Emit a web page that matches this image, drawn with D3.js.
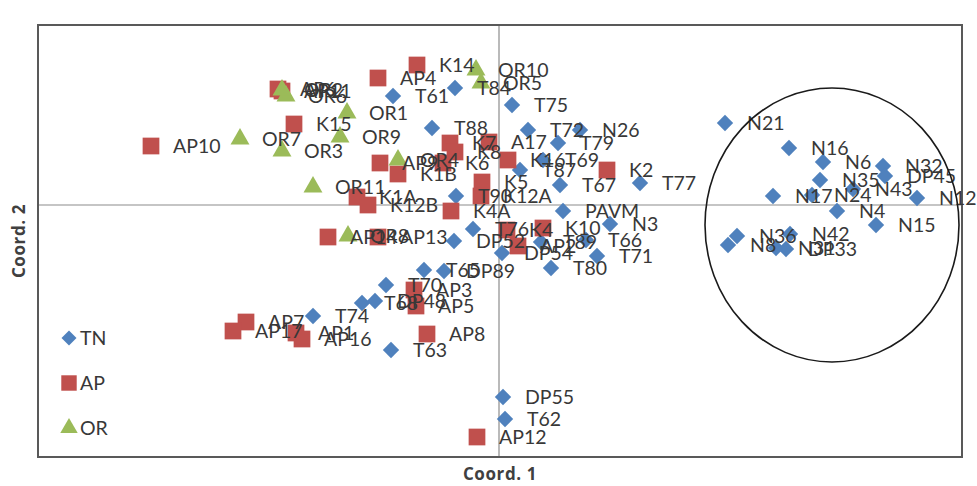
<!DOCTYPE html>
<html>
<head>
<meta charset="utf-8">
<script src="https://cdn.jsdelivr.net/npm/d3@7"></script>
<style>
  body { margin: 0; background: #fff; }
  svg { display: block; }
  .lbl { font-family: Lato, "Open Sans", sans-serif; font-size: 19.5px; fill: #383838; }
  .title { font-family: "Open Sans", sans-serif; font-size: 17px; font-weight: bold; fill: #404040; letter-spacing: 0.6px; }
</style>
</head>
<body>
<svg width="977" height="486"></svg>
<script>
// TN series
var tnLabels = ["T61","T84","T75","T88","T72","N26","T79","T69","T87","T67","T77","T90","PAVM","N3","T76","DP52","T89","T66","DP54","T71","T80","T65","DP89","T70","T68","DP48","T74","T63","DP55","T62",
                "N21","N16","N6","N32","DP45","N35","N17","N24","N43","N12","N4","N15","N8","N36","N42","N31","DP33"];
var tnX = [-0.106,-0.044,0.013,-0.067,0.029,0.081,0.059,0.044,0.021,0.061,0.141,-0.043,0.064,0.111,-0.026,-0.045,0.042,0.087,0.003,0.098,0.052,-0.075,-0.055,-0.113,-0.137,-0.124,-0.186,-0.108,0.004,0.006,
           0.226,0.290,0.324,0.384,0.386,0.321,0.274,0.313,0.354,0.418,0.338,0.377,0.229,0.238,0.291,0.277,0.287];
var tnY = [0.109,0.117,0.100,0.077,0.075,0.075,0.062,0.045,0.035,0.020,0.022,0.009,-0.006,-0.019,-0.024,-0.036,-0.037,-0.035,-0.048,-0.051,-0.063,-0.065,-0.066,-0.080,-0.098,-0.096,-0.111,-0.145,-0.192,-0.214,
           0.082,0.057,0.043,0.039,0.029,0.025,0.009,0.010,0.016,0.007,-0.006,-0.020,-0.040,-0.031,-0.029,-0.043,-0.044];

// AP series
var apLabels = ["AP10","AP6","AP11","K15","AP4","K14","AP9","K1B","K7","K8","K6","A17","K16","K5","K12A","K2","K1A","K12B","K4A","AP14","AP13","K4","K10","AP2","AP3","AP5","AP7","AP17","AP1","AP16","AP8","AP12"];
var apX = [-0.348,-0.221,-0.217,-0.205,-0.121,-0.082,-0.119,-0.101,-0.049,-0.044,-0.056,-0.010,0.009,-0.017,-0.018,0.108,-0.142,-0.131,-0.048,-0.171,-0.121,0.008,0.044,0.019,-0.085,-0.083,-0.253,-0.266,-0.203,-0.197,-0.072,-0.022];
var apY = [0.059,0.116,0.114,0.081,0.127,0.140,0.042,0.031,0.062,0.053,0.042,0.063,0.045,0.023,0.009,0.035,0.008,0.000,-0.006,-0.032,-0.032,-0.025,-0.023,-0.041,-0.085,-0.101,-0.117,-0.126,-0.128,-0.134,-0.129,-0.232];

// OR series
var orLabels = ["OR6","OR2","OR7","OR3","OR1","OR9","OR11","OR10","OR5","OR4","OR8"];
var orX = [-0.213,-0.217,-0.259,-0.217,-0.152,-0.159,-0.186,-0.023,-0.018,-0.101,-0.151];
var orY = [0.109,0.115,0.066,0.054,0.092,0.068,0.018,0.135,0.122,0.045,-0.031];

// ellipse around the N group: centre and radii in coordinate units
var ellCx = 0.333, ellCy = -0.020, ellRx = 0.127, ellRy = 0.137;

var series = [
  {name: "TN", color: "#4F81BD", labels: tnLabels, xs: tnX, ys: tnY, shape: d3.symbolDiamond2, size: 170},
  {name: "AP", color: "#C0504D", labels: apLabels, xs: apX, ys: apY, shape: d3.symbolSquare, size: 280},
  {name: "OR", color: "#9BBB59", labels: orLabels, xs: orX, ys: orY, shape: d3.symbolTriangle, size: 155}
];

var svg = d3.select("svg"),
    plotLeft = 38, plotRight = 962, plotTop = 25, plotBottom = 457;

var x = d3.scaleLinear().domain([-0.461, 0.463]).range([plotLeft, plotRight]),
    y = d3.scaleLinear().domain([-0.252, 0.180]).range([plotBottom, plotTop]);

// zero lines
svg.append("line")
  .attr("x1", x(0)).attr("x2", x(0)).attr("y1", plotTop).attr("y2", plotBottom)
  .attr("stroke", "#8c8c8c").attr("stroke-width", 1.2);
svg.append("line")
  .attr("x1", plotLeft).attr("x2", plotRight).attr("y1", y(0)).attr("y2", y(0))
  .attr("stroke", "#8c8c8c").attr("stroke-width", 1.2);

// frame
svg.append("rect")
  .attr("x", plotLeft).attr("y", plotTop)
  .attr("width", plotRight - plotLeft).attr("height", plotBottom - plotTop)
  .attr("fill", "none").attr("stroke", "#595959").attr("stroke-width", 2);

// markers
series.forEach(function(s) {
  var pts = s.labels.map(function(l, i) { return {label: l, x: s.xs[i], y: s.ys[i]}; });
  svg.append("g").selectAll("path")
    .data(pts)
    .enter().append("path")
    .attr("transform", function(d) { return "translate(" + x(d.x) + "," + y(d.y) + ")"; })
    .attr("d", d3.symbol().type(s.shape).size(s.size))
    .attr("fill", s.color);
});

// labels on top
series.forEach(function(s) {
  var pts = s.labels.map(function(l, i) { return {label: l, x: s.xs[i], y: s.ys[i]}; });
  svg.append("g").selectAll("text")
    .data(pts)
    .enter().append("text")
    .attr("class", "lbl")
    .attr("x", function(d) { return x(d.x) + 22; })
    .attr("y", function(d) { return y(d.y); })
    .attr("dy", "0.36em")
    .text(function(d) { return d.label; });
});

// ellipse
svg.append("ellipse")
  .attr("cx", x(ellCx)).attr("cy", y(ellCy))
  .attr("rx", x(ellCx + ellRx) - x(ellCx))
  .attr("ry", y(ellCy - ellRy) - y(ellCy))
  .attr("fill", "none").attr("stroke", "#1a1a1a").attr("stroke-width", 1.6);

// legend
var legend = svg.append("g").selectAll("g")
  .data(series)
  .enter().append("g")
  .attr("transform", function(d, i) { return "translate(69," + (338 + i * 45) + ")"; });
legend.append("path")
  .attr("d", function(d) { return d3.symbol().type(d.shape).size(d.size * 0.85)(); })
  .attr("fill", function(d) { return d.color; });
legend.append("text")
  .attr("class", "lbl")
  .attr("x", 11)
  .attr("dy", "0.36em")
  .text(function(d) { return d.name; });

// axis titles
svg.append("text")
  .attr("class", "title")
  .attr("x", (plotLeft + plotRight) / 2)
  .attr("y", 480)
  .attr("text-anchor", "middle")
  .text("Coord. 1");
svg.append("text")
  .attr("class", "title")
  .attr("transform", "translate(25," + ((plotTop + plotBottom) / 2) + ") rotate(-90)")
  .attr("text-anchor", "middle")
  .text("Coord. 2");
</script>
</body>
</html>
